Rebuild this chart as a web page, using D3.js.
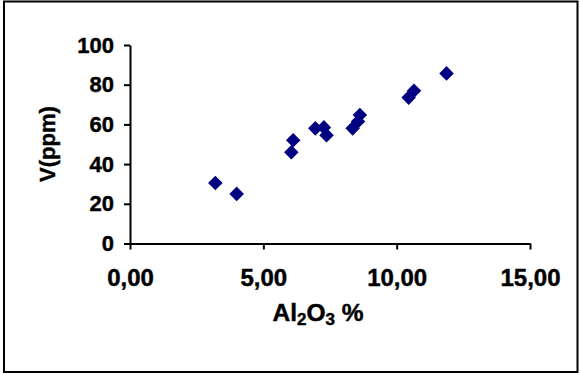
<!DOCTYPE html>
<html>
<head>
<meta charset="utf-8">
<script src="https://cdn.jsdelivr.net/npm/d3@7"></script>
<style>
html,body{margin:0;padding:0;background:#fff;}
svg{display:block;}
text{font-family:"Liberation Sans",Arial,sans-serif;font-weight:bold;fill:#000;stroke:#000;stroke-width:0.45px;}
</style>
</head>
<body>
<svg id="chart" width="580" height="375"></svg>
<script>
const al2o3 = [3.2, 4.0, 6.05, 6.12, 6.95, 7.27, 7.37, 8.35, 8.55, 8.62, 10.45, 10.65, 11.87];
const vppm  = [30.5, 25, 46, 52, 58, 58.5, 54.5, 58, 61.5, 64.7, 73.5, 77, 85.7];
const xTicks = [0, 5, 10, 15];
const yTicks = [0, 20, 40, 60, 80, 100];
const yTitle = "V(ppm)";

const svg = d3.select("#chart");
svg.append("rect").attr("x",4).attr("y",1.5).attr("width",573.5).attr("height",370.5)
  .attr("fill","#fff").attr("stroke","#000").attr("stroke-width",2);

const x = d3.scaleLinear().domain([0,15]).range([130,530]);
const y = d3.scaleLinear().domain([0,100]).range([243.5,45]);

const fmt = d => d3.format(".2f")(d).replace(".", ",");

const xAxis = svg.append("g").attr("transform","translate(0,243.5)")
  .call(d3.axisBottom(x).tickValues(xTicks).tickFormat(fmt).tickSize(6).tickPadding(19).tickSizeOuter(0));
const yAxis = svg.append("g").attr("transform","translate(130,0)")
  .call(d3.axisLeft(y).tickValues(yTicks).tickSize(6).tickPadding(10).tickSizeOuter(0));
[xAxis,yAxis].forEach(a=>{
  a.select(".domain").attr("stroke","#000").attr("stroke-width",2);
  a.selectAll(".tick line").attr("stroke","#000").attr("stroke-width",2);
  a.selectAll(".tick text").style("font-family","Liberation Sans, Arial, sans-serif").style("font-weight","bold").attr("fill","#000");
});
yAxis.selectAll(".tick text").style("font-size","22px");
xAxis.selectAll(".tick text").style("font-size","24px");

// x title with subscripts
const xt = svg.append("text").attr("x",318).attr("y",321).attr("text-anchor","middle").style("font-size","24.5px");
xt.append("tspan").text("Al");
xt.append("tspan").text("2").style("font-size","17px").attr("dy",4);
xt.append("tspan").text("O").attr("dy",-4);
xt.append("tspan").text("3").style("font-size","17px").attr("dy",4);
xt.append("tspan").text(" %").attr("dy",-4);

svg.append("text").attr("transform","translate(55,144) rotate(-90)")
  .attr("text-anchor","middle").style("font-size","22px").text(yTitle);

const sym = d3.symbol().type(d3.symbolDiamond2).size(135);
svg.append("g").selectAll("path").data(al2o3.map((d,i)=>[d,vppm[i]])).join("path")
  .attr("d", sym)
  .attr("transform", d=>`translate(${x(d[0])},${y(d[1])})`)
  .attr("fill","#000080");
</script>
</body>
</html>
